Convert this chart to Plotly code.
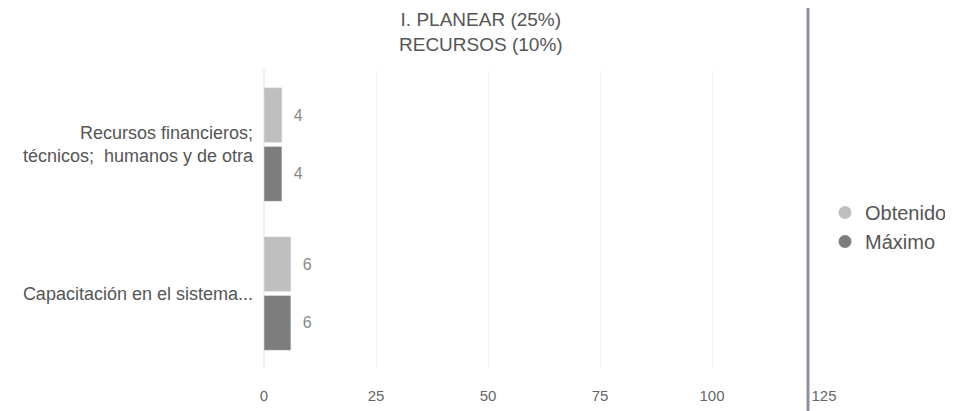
import plotly.graph_objects as go

categories = ["Recursos financieros;<br>técnicos;  humanos y de otra", "Capacitación en el sistema..."]
obtenido = [4, 6]
maximo = [4, 6]
series_names = ["Obtenido", "Máximo"]
series_colors = ["#bfbfbf", "#7d7d7d"]
tick_vals = [0, 25, 50, 75, 100, 125]
title_lines = ["I. PLANEAR (25%)", "RECURSOS (10%)"]

FONT = "Liberation Sans, Arial, sans-serif"
# page body has an 8px margin, so the figure is sized to fit the window
W, H = 945, 403
L, R, T, B = 256, 129, 62, 43
plot_w = W - L - R
plot_h = H - T - B

fig = go.Figure()
for name, vals, col in zip(series_names, [obtenido, maximo], series_colors):
    fig.add_trace(go.Bar(
        y=categories, x=vals, name=name, orientation="h",
        marker=dict(color=col), showlegend=False,
        text=["  " + str(v) for v in vals], textposition="outside",
        textfont=dict(family=FONT, size=16, color="#8a8a8a"), cliponaxis=False,
    ))
# legend entries with round markers
for name, col in zip(series_names, series_colors):
    fig.add_trace(go.Scatter(
        x=[None], y=[None], name=name, mode="markers",
        marker=dict(symbol="circle", size=13, color=col),
        showlegend=True,
    ))

fig.add_annotation(
    text="<br>".join(title_lines), xref="paper", yref="paper",
    x=(473 - L) / plot_w, y=(H - B - 24) / plot_h, xanchor="center", yanchor="middle",
    showarrow=False, align="center",
    font=dict(family=FONT, size=19, color="#555555"),
)

# dark vertical edge line visible on the scanned page
fig.add_shape(
    type="line", xref="paper", yref="paper",
    x0=(800 - L) / plot_w, x1=(800 - L) / plot_w,
    y0=(H - B - H) / plot_h, y1=(H - B) / plot_h,
    line=dict(color="#8c929a", width=3),
)

fig.update_layout(
    width=W, height=H,
    margin=dict(l=L, r=R, t=T, b=B, pad=0, autoexpand=False),
    paper_bgcolor="white", plot_bgcolor="white",
    barmode="group", bargap=0.21, bargroupgap=0.07,
    font=dict(family=FONT, size=14, color="#555555"),
    showlegend=True,
    legend=dict(
        x=(944 - L) / plot_w, xanchor="right", y=(H - B - 219) / plot_h, yanchor="middle",
        font=dict(family=FONT, size=20, color="#555555"),
        bgcolor="rgba(0,0,0,0)", tracegroupgap=0,
    ),
    xaxis=dict(
        range=[0, 125], tickvals=tick_vals, ticktext=[str(v) for v in tick_vals],
        showgrid=True, gridcolor="#f6f4ef", zeroline=True, zerolinecolor="#f0eeea",
        ticks="", ticklabelstandoff=17,
        tickfont=dict(family=FONT, size=15, color="#666666"),
        fixedrange=True,
    ),
    yaxis=dict(
        autorange="reversed", showgrid=False, zeroline=False, ticks="",
        ticklabelstandoff=10,
        tickfont=dict(family=FONT, size=18, color="#555555"),
    ),
)

fig.write_html("out.html")
